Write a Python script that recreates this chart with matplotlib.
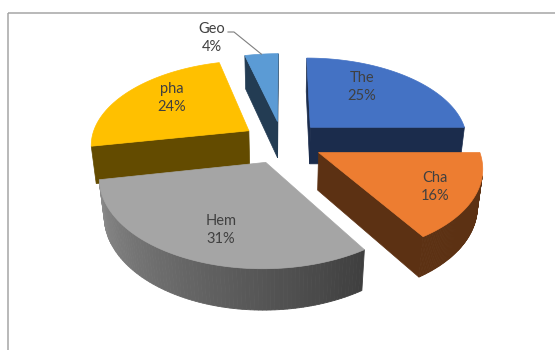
import numpy as np
import matplotlib.pyplot as plt
from matplotlib.patches import Polygon, Rectangle
from matplotlib.colors import to_rgb

# data
labels = ["The", "Cha", "Hem", "pha", "Geo"]
shares = [25, 16, 31, 24, 4]
top_colors = ["#4472C4", "#ED7D31", "#A5A5A5", "#FFC000", "#5B9BD5"]
side_gradient = [False, False, True, False, False]
label_xy = [(362, 87), (435, 187), (221, 230), (172, 98), (212, 38)]

# 3d view of the pie (pixel space of the figure)
ELEV = np.radians(31.9)
DIST = 5.67
SCALE = 158.3
CX, CY = 282.4, 142.0
HEIGHT = 0.284
EXPLODE = 0.256
CAM = np.array([0, -DIST * np.cos(ELEV), DIST * np.sin(ELEV)])


def project(x, y, z):
    v = y * np.sin(ELEV) + z * np.cos(ELEV)
    w = y * np.cos(ELEV) - z * np.sin(ELEV)
    k = DIST / (DIST + w)
    return CX + SCALE * x * k, CY - SCALE * v * k


def shade(color, f):
    return tuple(min(1, c * f) for c in to_rgb(color))


def faces_camera(normal, point):
    return np.dot(normal, CAM - np.asarray(point)) > 0


fig = plt.figure(figsize=(5.55, 3.5), dpi=100)
ax = fig.add_axes([0, 0, 1, 1])
ax.set_xlim(0, 555)
ax.set_ylim(350, 0)
ax.axis("off")

ax.add_patch(Rectangle((7.5, 12.5), 700, 500, fill=False, edgecolor="#A6A6A6", lw=1.1))

# slice angles, starting at 12 o'clock, clockwise
slices = []
start = 90.0
for name, val, col, grad, lxy in zip(labels, shares, top_colors, side_gradient, label_xy):
    t0 = start
    t1 = start - val * 3.6
    start = t1
    mid = np.radians((t0 + t1) / 2)
    slices.append(dict(name=name, val=val, col=col, grad=grad, lxy=lxy,
                       t0=np.radians(t0), t1=np.radians(t1), mid=mid,
                       ox=EXPLODE * np.cos(mid), oy=EXPLODE * np.sin(mid)))

# back to front
order = sorted(slices, key=lambda s: -np.sin(s["mid"]))

for s in order:
    ox, oy = s["ox"], s["oy"]
    ts = np.linspace(s["t0"], s["t1"], 90)
    side = shade(s["col"], 0.39)

    # radial walls
    for t, sgn in ((s["t0"], 1), (s["t1"], -1)):
        n = np.array([np.cos(t + sgn * np.pi / 2), np.sin(t + sgn * np.pi / 2), 0])
        p = (ox + 0.5 * np.cos(t), oy + 0.5 * np.sin(t), -HEIGHT / 2)
        if faces_camera(n, p):
            pts = [project(ox, oy, 0), project(ox + np.cos(t), oy + np.sin(t), 0),
                   project(ox + np.cos(t), oy + np.sin(t), -HEIGHT),
                   project(ox, oy, -HEIGHT)]
            ax.add_patch(Polygon(pts, closed=True, facecolor=side,
                                 edgecolor=side, lw=0.5))

    # outer curved wall
    for a, b in zip(ts[:-1], ts[1:]):
        m = (a + b) / 2
        n = np.array([np.cos(m), np.sin(m), 0])
        p = (ox + np.cos(m), oy + np.sin(m), -HEIGHT / 2)
        if not faces_camera(n, p):
            continue
        if s["grad"]:
            u = (m - s["t0"]) / (s["t1"] - s["t0"])
            f = 0.38 + 0.47 * u
        else:
            f = 0.39
        c = shade(s["col"], f)
        pts = [project(ox + np.cos(a), oy + np.sin(a), 0),
               project(ox + np.cos(b), oy + np.sin(b), 0),
               project(ox + np.cos(b), oy + np.sin(b), -HEIGHT),
               project(ox + np.cos(a), oy + np.sin(a), -HEIGHT)]
        ax.add_patch(Polygon(pts, closed=True, facecolor=c, edgecolor=c, lw=0.6))

    # top face
    top = [project(ox, oy, 0)] + [project(ox + np.cos(t), oy + np.sin(t), 0) for t in ts]
    ax.add_patch(Polygon(top, closed=True, facecolor=s["col"],
                         edgecolor=s["col"], lw=0.5))

# labels
txt = dict(ha="center", va="center", fontsize=10.5, color="#404040",
           family="Lato", linespacing=1.45)
for s in slices:
    lab = f"{s['name']}\n{s['val']}%"
    lx, ly = s["lxy"]
    if s["name"] == "Geo":
        ex, ey = project(s["ox"] + np.cos(s["mid"]), s["oy"] + np.sin(s["mid"]), 0)
        ax.plot([lx + 16, lx + 22, ex, ex], [ly - 6, ly - 6, ey, ey],
                color="#7F7F7F", lw=0.8)
    ax.text(lx, ly, lab, **txt)

fig.savefig("out.png", dpi=100)
